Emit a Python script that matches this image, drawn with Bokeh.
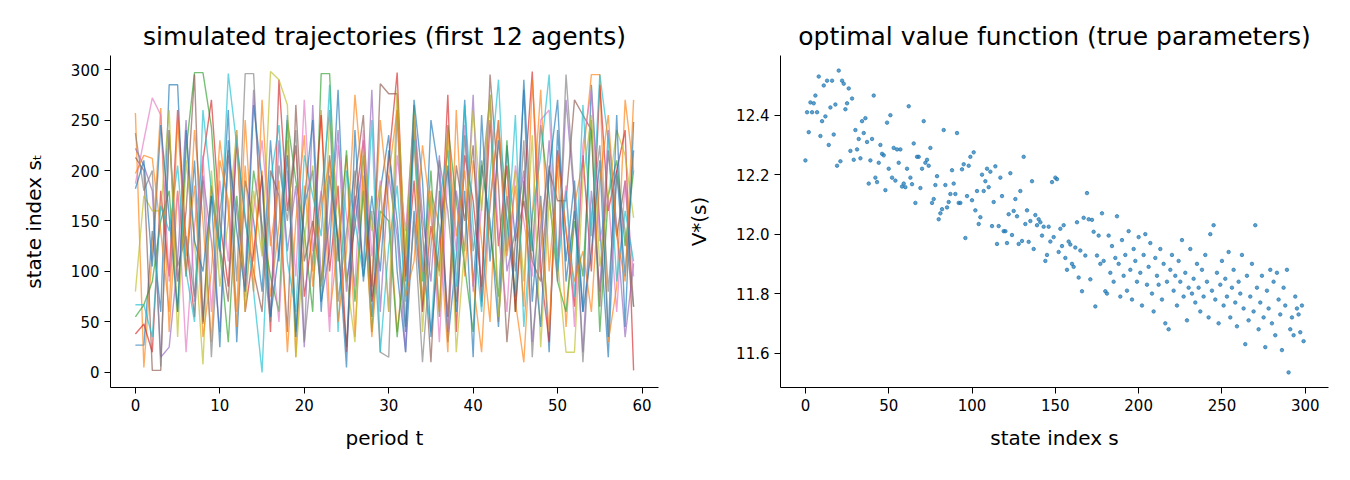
from bokeh.plotting import figure
from bokeh.layouts import row
from bokeh.models import Range1d, FixedTicker, PrintfTickFormatter
from bokeh.embed import file_html
from bokeh.resources import INLINE

# ---------------- data ----------------
periods = list(range(60))

traj_blue = [27, 27, 140, 60, 285, 285, 95, 210, 48, 175,
             120, 260, 30, 190, 150, 80, 230, 110, 255, 40,
             165, 200, 70, 120, 280, 90, 145, 215, 55, 180,
             235, 100, 20, 160, 60, 250, 195, 30, 115, 270,
             85, 205, 150, 45, 225, 130, 280, 70, 175, 20,
             240, 110, 190, 60, 285, 145, 15, 200, 95, 220]
traj_orange = [257, 5, 120, 262, 40, 180, 95, 240, 150, 30,
               210, 170, 60, 250, 110, 200, 75, 145, 230, 15,
               185, 100, 260, 55, 130, 215, 35, 195, 85, 250,
               165, 40, 120, 230, 70, 180, 145, 20, 260, 95,
               210, 130, 50, 240, 175, 70, 10, 155, 280, 100,
               205, 45, 165, 210, 295, 295, 30, 85, 270, 200]
traj_green = [55, 67, 90, 150, 180, 60, 220, 297, 297, 243,
              120, 30, 175, 85, 200, 145, 95, 60, 250, 190,
              140, 60, 296, 296, 110, 220, 70, 180, 40, 160,
              150, 35, 125, 265, 90, 200, 55, 245, 170, 105,
              40, 210, 140, 75, 230, 60, 190, 120, 245, 175,
              90, 60, 150, 95, 250, 40, 175, 210, 125, 200]
traj_red = [38, 48, 20, 180, 95, 260, 130, 55, 210, 270,
            150, 85, 235, 60, 120, 195, 40, 290, 160, 225,
            75, 140, 255, 100, 185, 20, 165, 230, 70, 135,
            210, 297, 90, 190, 60, 145, 100, 275, 40, 215,
            170, 85, 250, 125, 205, 60, 180, 298, 100, 30,
            220, 140, 65, 215, 100, 285, 160, 200, 240, 2]
traj_purple = [222, 205, 180, 15, 25, 110, 250, 70, 195, 130,
               40, 215, 160, 95, 280, 140, 55, 230, 120, 185,
               25, 265, 90, 150, 240, 80, 175, 105, 280, 60,
               195, 135, 20, 255, 155, 90, 215, 40, 180, 120,
               275, 65, 165, 250, 100, 140, 200, 30, 120, 230,
               90, 270, 170, 20, 180, 80, 240, 145, 35, 108]
traj_brown = [213, 200, 2, 2, 240, 90, 160, 295, 50, 185,
              125, 70, 230, 150, 100, 60, 200, 175, 40, 265,
              110, 150, 85, 215, 130, 25, 190, 255, 75, 286,
              276, 276, 95, 240, 140, 10, 180, 55, 205, 150,
              225, 70, 295, 185, 30, 130, 170, 110, 90, 200,
              170, 170, 270, 255, 240, 65, 220, 135, 190, 65]
traj_pink = [187, 230, 272, 255, 90, 180, 20, 145, 215, 60,
             190, 110, 240, 75, 160, 230, 135, 50, 200, 95,
             270, 120, 180, 40, 225, 155, 85, 240, 115, 190,
             60, 215, 140, 255, 100, 175, 30, 200, 120, 245,
             80, 165, 270, 135, 60, 205, 150, 95, 250, 260,
             115, 185, 45, 225, 280, 130, 175, 60, 190, 95]
traj_gray = [237, 180, 200, 6, 240, 105, 135, 75, 190, 15,
             160, 220, 90, 296, 296, 125, 50, 205, 150, 240,
             30, 115, 175, 260, 70, 140, 200, 95, 160, 20,
             15, 260, 45, 150, 10, 125, 210, 160, 70, 235,
             120, 190, 275, 50, 175, 100, 230, 15, 145, 205,
             100, 295, 175, 10, 155, 225, 80, 195, 140, 65]
traj_olive = [80, 175, 160, 160, 260, 35, 210, 130, 8, 200,
              85, 150, 240, 60, 180, 115, 298, 290, 265, 15,
              130, 205, 75, 250, 165, 95, 30, 220, 140, 185,
              60, 280, 115, 255, 40, 175, 95, 230, 20, 125,
              260, 160, 275, 55, 145, 200, 90, 235, 25, 170,
              110, 20, 20, 190, 255, 105, 175, 240, 215, 153]
traj_cyan = [67, 67, 35, 165, 140, 205, 100, 50, 260, 180,
             120, 296, 225, 155, 80, 0, 190, 245, 110, 60,
             215, 175, 135, 285, 40, 200, 150, 95, 250, 20,
             125, 185, 70, 230, 110, 40, 170, 220, 85, 265,
             145, 60, 195, 290, 120, 255, 45, 155, 215, 295,
             100, 180, 75, 265, 135, 295, 230, 90, 160, 110]
traj_blue2 = [182, 210, 105, 245, 155, 60, 240, 130, 100, 175,
              25, 230, 140, 80, 265, 190, 55, 120, 215, 35,
              170, 250, 60, 195, 130, 5, 240, 90, 175, 100,
              220, 150, 40, 270, 190, 35, 130, 205, 60, 180,
              15, 255, 110, 230, 150, 75, 290, 130, 45, 200,
              270, 90, 160, 60, 120, 210, 35, 255, 45, 248]
traj_orange2 = [197, 215, 212, 140, 60, 250, 115, 185, 35, 100,
                230, 160, 45, 205, 80, 270, 125, 190, 20, 150,
                235, 85, 165, 210, 50, 120, 275, 180, 35, 140,
                195, 260, 75, 110, 225, 155, 60, 240, 135, 200,
                90, 20, 170, 250, 115, 185, 65, 290, 155, 40,
                215, 140, 90, 120, 60, 190, 255, 135, 90, 270]

trajectories = [traj_blue, traj_orange, traj_green, traj_red, traj_purple,
                traj_brown, traj_pink, traj_gray, traj_olive, traj_cyan,
                traj_blue2, traj_orange2]
line_colors = ["#1f77b4", "#ff7f0e", "#2ca02c", "#d62728", "#9467bd",
               "#8c564b", "#e377c2", "#7f7f7f", "#bcbd22", "#17becf",
               "#1f77b4", "#ff7f0e"]

states = list(range(300))
value_fn = [
    12.248, 12.41, 12.343, 12.443, 12.41, 12.44, 12.466, 12.41, 12.53, 12.33,
    12.38, 12.50, 12.396, 12.516, 12.30, 12.426, 12.516, 12.335, 12.436, 12.23,
    12.55, 12.245, 12.516, 12.506, 12.42, 12.44, 12.49, 12.28, 12.456, 12.25,
    12.35, 12.285, 12.32, 12.255, 12.38, 12.34, 12.39, 12.31, 12.17, 12.248,
    12.32, 12.466, 12.19, 12.175, 12.24, 12.30, 12.27, 12.265, 12.148, 12.375,
    12.22, 12.40, 12.19, 12.29, 12.18, 12.285, 12.24, 12.285, 12.16, 12.17,
    12.158, 12.22, 12.43, 12.19, 12.168, 12.305, 12.105, 12.26, 12.26, 12.155,
    12.22, 12.38, 12.24, 12.25, 12.23, 12.29, 12.105, 12.118, 12.165, 12.195,
    12.05, 12.07, 12.084, 12.35, 12.165, 12.09, 12.108, 12.135, 12.215, 12.17,
    12.135, 12.34, 12.105, 12.105, 12.218, 12.235, 11.987, 12.128, 12.23, 12.26,
    12.114, 12.275, 12.08, 12.145, 12.034, 12.057, 12.20, 12.145, 12.178, 12.22,
    12.158, 12.21, 12.027, 12.108, 12.228, 11.967, 12.027, 12.19, 12.128, 12.01,
    12.01, 11.97, 12.067, 12.205, 11.997, 12.078, 12.118, 12.06, 11.967, 12.145,
    11.977, 12.26, 12.034, 12.08, 11.974, 12.044, 12.178, 11.95, 12.064, 12.03,
    12.05, 12.04, 11.995, 12.025, 11.91, 11.93, 12.025, 11.975, 12.175, 11.99,
    12.19, 12.185, 11.94, 12.018, 11.96, 12.03, 11.92, 11.88, 11.975, 11.965,
    11.90, 11.89, 11.955, 12.04, 11.854, 11.945, 11.808, 12.055, 11.928, 12.138,
    12.05, 11.848, 12.048, 12.008, 11.757, 11.928, 11.995, 11.90, 12.07, 11.91,
    11.808, 11.80, 11.995, 11.87, 11.96, 11.84, 11.92, 12.06, 11.90, 11.79,
    11.98, 11.86, 11.93, 11.81, 12.01, 11.88, 11.78, 11.95, 11.91, 11.84,
    11.99, 11.87, 11.76, 11.93, 12.00, 11.83, 11.89, 11.97, 11.80, 11.74,
    11.92, 11.86, 11.83, 11.95, 11.78, 11.90, 11.70, 11.84, 11.68, 11.88,
    11.93, 11.81, 11.86, 11.76, 11.91, 11.84, 11.98, 11.79, 11.87, 11.71,
    11.82, 11.95, 11.80, 11.85, 11.77, 11.90, 11.82, 11.74, 11.88, 11.79,
    11.93, 11.84, 11.72, 12.00, 11.81, 12.03, 11.78, 11.87, 11.70, 11.83,
    11.91, 11.76, 11.85, 11.79, 11.94, 11.72, 11.82, 11.88, 11.77, 11.69,
    11.84, 11.80, 11.93, 11.75, 11.63, 11.86, 11.71, 11.79, 11.90, 11.74,
    12.03, 11.82, 11.68, 11.77, 11.86, 11.72, 11.62, 11.81, 11.75, 11.88,
    11.70, 11.84, 11.66, 11.87, 11.78, 11.73, 11.61, 11.82, 11.76, 11.88,
    11.535, 11.68, 11.72, 11.66, 11.79, 11.75, 11.73, 11.67, 11.76, 11.64,
]

left_xticks = [0, 10, 20, 30, 40, 50, 60]
left_yticks = [0, 50, 100, 150, 200, 250, 300]
right_xticks = [0, 50, 100, 150, 200, 250, 300]
right_yticks = [11.6, 11.8, 12.0, 12.2, 12.4]

FONT = "DejaVu Sans"


def style(p, xticks, yticks):
    p.xgrid.visible = False
    p.ygrid.visible = False
    p.outline_line_color = None
    p.background_fill_color = "white"
    p.border_fill_color = "white"
    p.xaxis.ticker = FixedTicker(ticks=xticks)
    p.yaxis.ticker = FixedTicker(ticks=yticks)
    for ax in p.axis:
        ax.minor_tick_line_color = None
        ax.major_tick_out = 6
        ax.major_tick_in = 0
        ax.major_tick_line_color = "black"
        ax.axis_line_color = "black"
        ax.major_label_text_font = FONT
        ax.major_label_text_font_size = "15px"
        ax.major_label_text_color = "black"
        ax.major_label_standoff = 5
        ax.axis_label_text_font = FONT
        ax.axis_label_text_font_style = "normal"
        ax.axis_label_text_font_size = "20px"
        ax.axis_label_text_color = "black"
    p.xaxis.axis_label_standoff = 12
    p.yaxis.axis_label_standoff = 22
    p.title.text_font = FONT
    p.title.text_font_size = "25px"
    p.title.text_font_style = "normal"
    p.title.align = "center"
    p.title.text_color = "black"
    p.title.standoff = 9


# ---------------- left: trajectories ----------------
p1 = figure(width=675, height=480, output_backend="svg", toolbar_location=None,
            title="simulated trajectories (first 12 agents)",
            x_range=Range1d(-2.95, 61.95), y_range=Range1d(-14.95, 313.95),
            min_border_left=110, min_border_right=17, min_border_top=55, min_border_bottom=93)
for traj, col in zip(trajectories, line_colors):
    p1.line(periods, traj, line_color=col, line_alpha=0.65, line_width=1.4)
style(p1, left_xticks, left_yticks)
p1.xaxis.axis_label = "period t"
p1.yaxis.axis_label = "state index sₜ"

# ---------------- right: value function ----------------
vmin, vmax = min(value_fn), max(value_fn)
pad = 0.05 * (vmax - vmin)
p2 = figure(width=675, height=480, output_backend="svg", toolbar_location=None,
            title="optimal value function (true parameters)",
            x_range=Range1d(-14.95, 313.95), y_range=Range1d(vmin - pad, vmax + pad),
            min_border_left=105, min_border_right=22, min_border_top=55, min_border_bottom=93)
p2.scatter(states, value_fn, size=3.5, fill_color="#1f77b4", line_color="#1f77b4",
           fill_alpha=0.7, line_alpha=0.7)
style(p2, right_xticks, right_yticks)
p2.yaxis.formatter = PrintfTickFormatter(format="%.1f")
p2.xaxis.axis_label = "state index s"
p2.yaxis.axis_label = "V*(s)"

layout = row(p1, p2)
open("out.html", "w").write(file_html(layout, INLINE))
